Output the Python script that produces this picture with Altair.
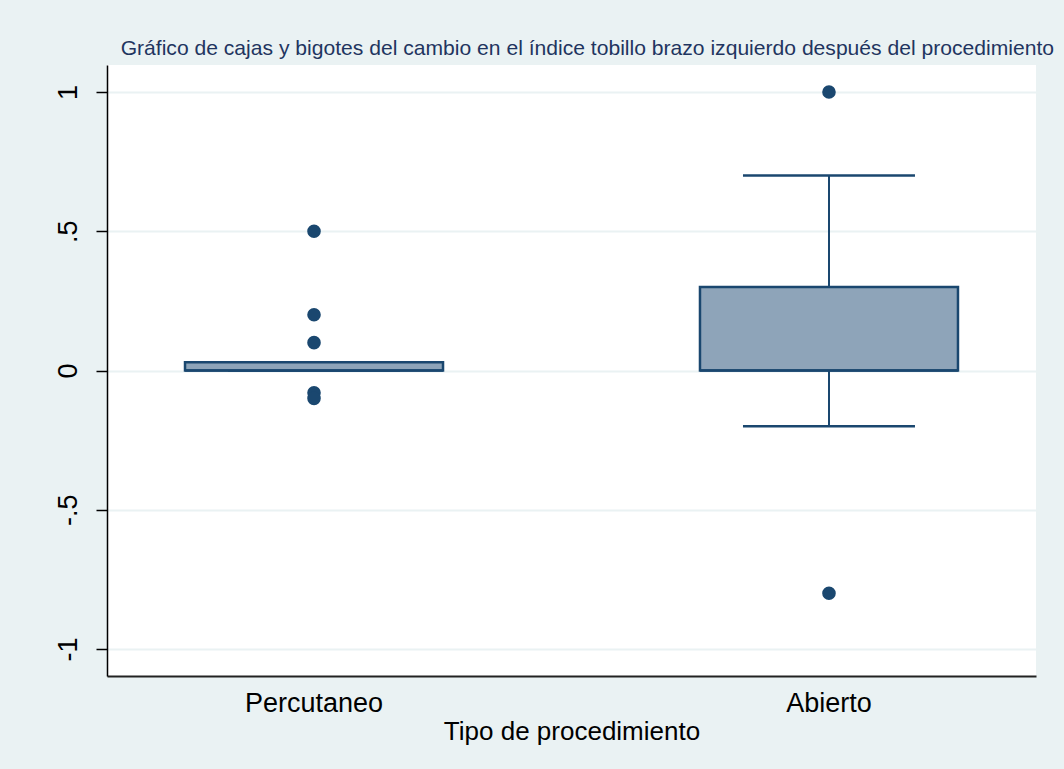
import altair as alt
import pandas as pd

# Summary statistics per procedure type (change in left ankle-brachial index)
groups = ["Percutaneo", "Abierto"]
q1 = [0.0, 0.0]
median = [0.0, 0.0]
q3 = [0.03, 0.3]
whisker_low = [0.0, -0.2]
whisker_high = [0.03, 0.7]

# Outside values
outlier_group = ["Percutaneo", "Percutaneo", "Percutaneo", "Percutaneo", "Percutaneo",
                 "Abierto", "Abierto"]
outlier_value = [0.5, 0.2, 0.1, -0.08, -0.1, 1.0, -0.8]

y_ticks = [-1, -0.5, 0, 0.5, 1]

stats = pd.DataFrame({
    "grupo": groups,
    "q1": q1,
    "mediana": median,
    "q3": q3,
    "bajo": whisker_low,
    "alto": whisker_high,
})
outliers = pd.DataFrame({"grupo": outlier_group, "valor": outlier_value})

NAVY = "#1A476F"
BOX_FILL = "#8EA4B9"
FONT = "Liberation Sans"

x_enc = alt.X(
    "grupo:N",
    sort=groups,
    scale=alt.Scale(paddingInner=0.196, paddingOuter=0),
    axis=alt.Axis(
        title="Tipo de procedimiento",
        titleFontSize=26,
        titleFont=FONT,
        titleFontWeight="normal",
        titleColor="black",
        titlePadding=2,
        ticks=False,
        labelAngle=0,
        labelFont=FONT,
        labelFontSize=27,
        labelColor="black",
        labelPadding=14,
        domainColor="#222222",
        domainWidth=2,
        grid=False,
    ),
)

y_scale = alt.Scale(domain=[-1.097, 1.097], nice=False, zero=False)
y_axis = alt.Axis(
    title=None,
    values=y_ticks,
    # Stata-style labels: "-1", "-.5", "0", ".5", "1" with a plain hyphen
    labelExpr="(datum.value < 0 ? '-' : '') + replace(format(abs(datum.value), '~g'), '0.', '.')",
    grid=True,
    gridColor="#EAF2F3",
    gridWidth=2,
    tickSize=11,
    tickColor="black",
    tickWidth=1.5,
    labelAngle=270,
    labelFont=FONT,
    labelFontSize=27,
    labelColor="black",
    labelPadding=14,
    domainColor="black",
    domainWidth=1.5,
)

base = alt.Chart(stats)

whiskers = base.mark_rule(color=NAVY, strokeWidth=2).encode(
    x=x_enc,
    y=alt.Y("bajo:Q", scale=y_scale, axis=y_axis),
    y2="alto:Q",
)
cap_low = base.mark_tick(color=NAVY, opacity=1, size=172, thickness=2.5,
                         orient="horizontal").encode(
    x=x_enc, y=alt.Y("bajo:Q", scale=y_scale, axis=y_axis)
)
cap_high = base.mark_tick(color=NAVY, opacity=1, size=172, thickness=2.5,
                          orient="horizontal").encode(
    x=x_enc, y=alt.Y("alto:Q", scale=y_scale, axis=y_axis)
)
box = base.mark_bar(size=258, fill=BOX_FILL, stroke=NAVY, strokeWidth=2.5).encode(
    x=x_enc,
    y=alt.Y("q1:Q", scale=y_scale, axis=y_axis),
    y2="q3:Q",
)
median_line = base.mark_tick(color=NAVY, opacity=1, size=258, thickness=2.5,
                             orient="horizontal").encode(
    x=x_enc, y=alt.Y("mediana:Q", scale=y_scale, axis=y_axis)
)
points = alt.Chart(outliers).mark_circle(size=185, color=NAVY, opacity=1).encode(
    x=x_enc, y=alt.Y("valor:Q", scale=y_scale, axis=y_axis)
)

chart = (
    alt.layer(whiskers, cap_low, cap_high, box, median_line, points)
    .properties(
        width=929,
        height=611,
        autosize=alt.AutoSizeParams(type="none"),
        padding={"left": 107, "top": 65, "right": 28, "bottom": 93},
        background="#EAF2F3",
        title=alt.TitleParams(
            "Gráfico de cajas y bigotes del cambio en el índice tobillo brazo izquierdo después del procedimiento",
            anchor="end",
            font=FONT,
            fontSize=21.1,
            fontWeight="normal",
            color="#1F3560",
            dx=18,
            offset=6,
        ),
    )
    .configure_view(strokeWidth=0, fill="white")
)

chart.save("out.html", embed_options={"renderer": "svg", "actions": False})
